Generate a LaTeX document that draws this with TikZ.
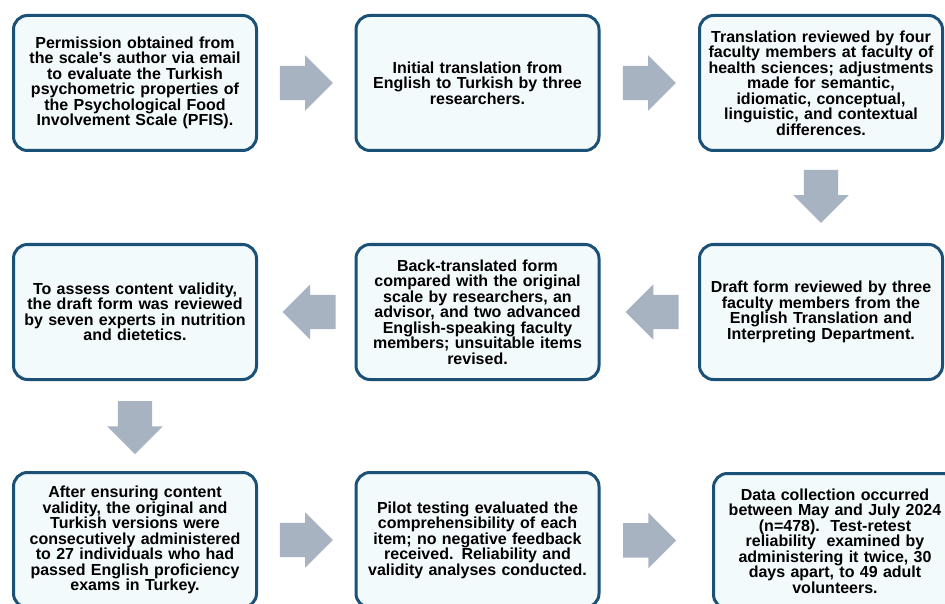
\documentclass[tikz,border=0pt]{standalone}
\usepackage{fontspec}
\setmainfont{Liberation Sans}
\usepackage{xcolor}
\usetikzlibrary{shapes.arrows,calc}
\definecolor{boxline}{HTML}{1B5077}
\definecolor{boxfill}{HTML}{F2FAFB}
\definecolor{arrowgray}{HTML}{A7B3C1}

\begin{document}
\begin{tikzpicture}[x=1pt,y=-1pt,
stage/.style={draw=boxline, fill=boxfill, line width=3pt, rounded corners=14pt,
	minimum width=243pt, minimum height=135pt, text width=236pt, align=center,
	inner sep=2pt, font=\fontsize{16}{15.5}\selectfont\bfseries},
flow/.style={single arrow, fill=arrowgray, draw=none, inner xsep=0pt, inner ysep=17pt,
	minimum height=53pt, minimum width=55pt,
	single arrow head extend=10.5pt, single arrow head indent=0pt},
flowright/.style={flow, xshift=-8.5pt},
flowleft/.style={flow, shape border rotate=180, xshift=8.5pt},
flowdown/.style={flow, shape border rotate=270, inner xsep=17pt, inner ysep=0pt, yshift=7pt}]
%\draw[help lines] (0,0) grid[step=50] (945,604);
\clip (0,0) rectangle (945,604);

% first row
\node[stage] (perm) at (135,83) {Permission obtained from\\the scale\textquotesingle s author via email\\to evaluate the Turkish\\psychometric properties of\\the Psychological Food\\Involvement Scale (PFIS).};
\node[stage] (init) at (477.5,83) {Initial translation from\\English to Turkish by three\\researchers.};
\node[stage] (review) at (821,83) {Translation reviewed by four\\faculty members at faculty of\\health sciences; adjustments\\made for semantic,\\idiomatic, conceptual,\\linguistic, and contextual\\differences.};

% second row
\node[stage] (draft) at (821,312) {Draft form reviewed by three\\faculty members from the\\English Translation and\\Interpreting Department.};
\node[stage] (back) at (477.5,312) {Back-translated form\\compared with the original\\scale by researchers, an\\advisor, and two advanced\\English-speaking faculty\\members; unsuitable items\\revised.};
\node[stage] (content) at (135,312) {To assess content validity,\\the draft form was reviewed\\by seven experts in nutrition\\and dietetics.};

% third row
\node[stage] (ensure) at (135,540) {After ensuring content\\validity, the original and\\Turkish versions were\\consecutively administered\\to 27 individuals who had\\passed English proficiency\\exams in Turkey.};
\node[stage] (pilot) at (477.5,540) {Pilot testing evaluated the\\comprehensibility of each\\item; no negative feedback\\received. Reliability and\\validity analyses conducted.};
\node[stage] (collect) at (835,541) {Data collection occurred\\between May and July 2024\\(n=478).\ \ Test-retest\\reliability\ \ examined by\\administering it twice, 30\\days apart, to 49 adult\\volunteers.};

% block arrows
\node[flowright] (f1) at ($(perm.east)!0.5!(init.west)$) {};
\node[flowright] (f2) at ($(init.east)!0.5!(review.west)$) {};
\node[flowdown] (f3) at ($(review.south)!0.47!(draft.north)$) {};
\node[flowleft] (f4) at ($(back.east)!0.53!(draft.west)$) {};
\node[flowleft] (f5) at ($(content.east)!0.53!(back.west)$) {};
\node[flowdown] (f6) at ($(content.south)!0.5!(ensure.north)$) {};
\node[flowright] (f7) at ($(ensure.east)!0.5!(pilot.west)$) {};
\node[flowright] (f8) at ($(pilot.east)!0.44!(collect.west)$) {};
\end{tikzpicture}
\end{document}
